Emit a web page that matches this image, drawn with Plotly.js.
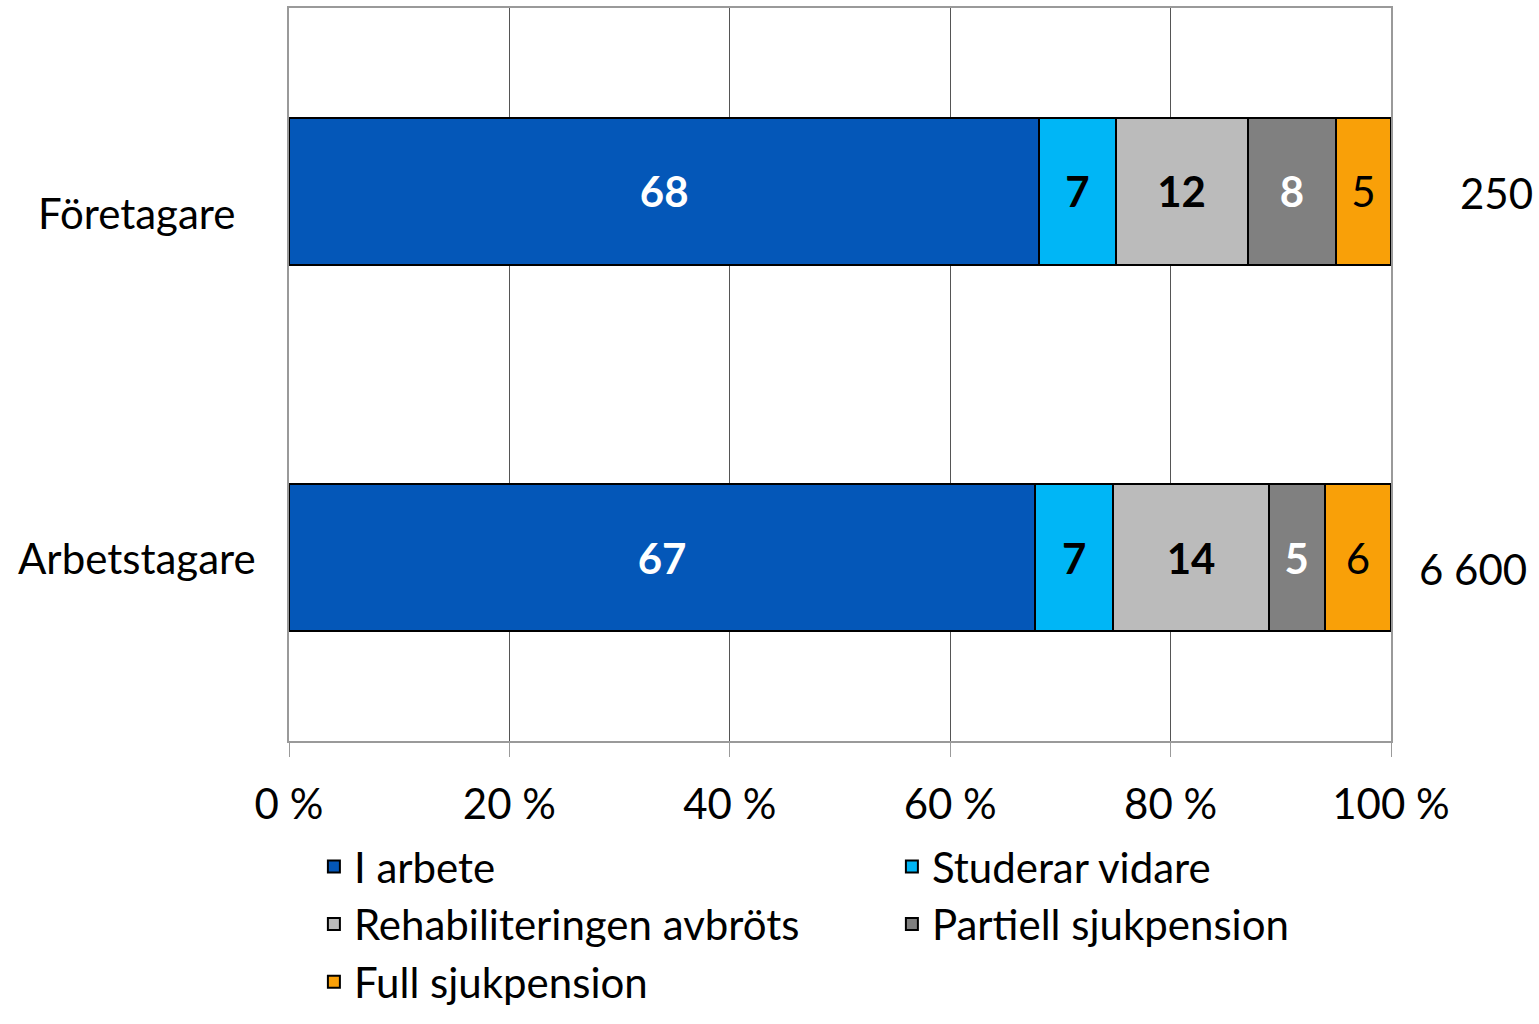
<!DOCTYPE html>
<html>
<head>
<meta charset="utf-8">
<script src="https://cdn.plot.ly/plotly-3.0.1.min.js"></script>
<style>
  body { margin: 0; background: #fff; }
  #plot { width: 1539px; height: 1024px; }
</style>
</head>
<body>
<div id="plot"></div>
<script>
// Categories (top to bottom)
let groups = ["Företagare", "Arbetstagare"]
let groupCounts = ["250", "6 600"]

// Series values in percent (bar widths) and the printed labels
let iArbete = [68.1, 67.7]
let studerar = [6.9, 7.1]
let rehab = [12.0, 14.1]
let partiell = [8.0, 5.1]
let full = [5.0, 6.0]

let iArbeteLabels = ["68", "67"]
let studerarLabels = ["7", "7"]
let rehabLabels = ["12", "14"]
let partiellLabels = ["8", "5"]
let fullLabels = ["5", "6"]

let seriesNames = ["I arbete", "Studerar vidare", "Rehabiliteringen avbröts",
  "Partiell sjukpension", "Full sjukpension"]
let seriesValues = [iArbete, studerar, rehab, partiell, full]
let seriesLabels = [iArbeteLabels, studerarLabels, rehabLabels, partiellLabels, fullLabels]
let seriesColors = ["#0457B8", "#00B6F6", "#BBBBBB", "#808080", "#F9A008"]
let labelColors = ["#ffffff", "#000000", "#000000", "#ffffff", "#000000"]
let labelWeights = ["bold", "bold", "bold", "bold", "normal"]

let font = "Lato, 'Open Sans', sans-serif"

let data = []
for (let i = 0; i < seriesNames.length; i++) {
  data.push({
    type: "bar",
    orientation: "h",
    name: seriesNames[i],
    y: groups,
    x: seriesValues[i],
    text: seriesLabels[i],
    textposition: "inside",
    insidetextanchor: "middle",
    textangle: 0,
    constraintext: "none",
    textfont: { family: font, size: 42, color: labelColors[i], weight: labelWeights[i] },
    marker: { color: seriesColors[i], line: { color: "#000000", width: 2 } },
    hoverinfo: "skip"
  })
}

// Category names and counts placed as annotations
let annotations = [
  { text: groups[0], x: -0.138, y: 0.72 },
  { text: groups[1], x: -0.138, y: 0.25 },
  { text: groupCounts[0], x: 1.096, y: 0.747 },
  { text: groupCounts[1], x: 1.074, y: 0.234 }
].map(a => Object.assign({
  xref: "paper", yref: "paper", xanchor: "center", yanchor: "middle",
  showarrow: false, font: { family: font, size: 42, color: "#000000" }
}, a))

let layout = {
  barmode: "stack",
  bargap: 0.6,
  width: 1539,
  height: 1024,
  margin: { l: 289, r: 148, t: 8, b: 280 },
  paper_bgcolor: "#ffffff",
  plot_bgcolor: "#ffffff",
  showlegend: true,
  legend: {
    orientation: "h",
    x: -0.001,
    y: -0.125,
    xanchor: "left",
    yanchor: "top",
    indentation: 26,
    entrywidth: 507,
    bgcolor: "rgba(0,0,0,0)",
    font: { family: font, size: 42, color: "#000000" },
    traceorder: "normal"
  },
  xaxis: {
    range: [0, 100],
    tickvals: [0, 20, 40, 60, 80, 100],
    ticktext: ["0 %", "20 %", "40 %", "60 %", "80 %", "100 %"],
    ticks: "outside",
    ticklen: 14,
    tickcolor: "#9a9a9a",
    ticklabelstandoff: 12,
    showgrid: true,
    gridcolor: "#555555",
    gridwidth: 1,
    zeroline: false,
    showline: true,
    linecolor: "#9a9a9a",
    linewidth: 2,
    mirror: true,
    tickfont: { family: font, size: 42, color: "#000000" },
    fixedrange: true
  },
  yaxis: {
    autorange: "reversed",
    showticklabels: false,
    showgrid: false,
    showline: true,
    linecolor: "#9a9a9a",
    linewidth: 2,
    mirror: true,
    zeroline: false,
    fixedrange: true
  },
  annotations: annotations
}

Plotly.newPlot("plot", data, layout, { displayModeBar: false, staticPlot: true })
</script>
</body>
</html>
